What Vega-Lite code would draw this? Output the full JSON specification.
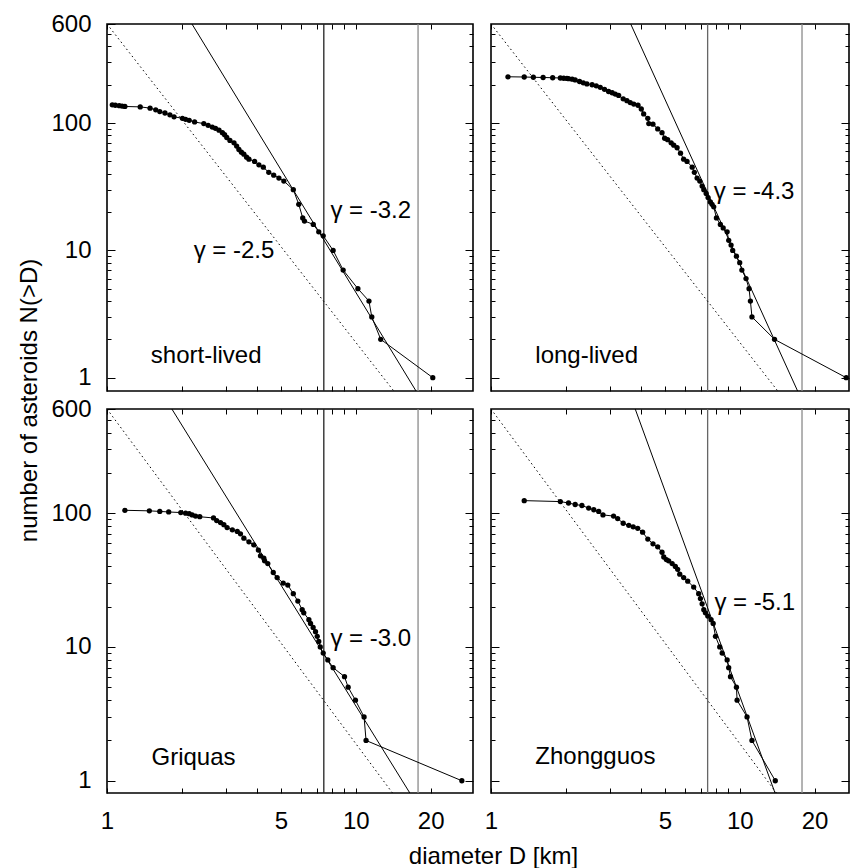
{
  "$schema": "https://vega.github.io/schema/vega-lite/v6.json",
  "padding": {"left": 16, "top": 11, "right": 0, "bottom": 0},
  "background": "white",
  "config": {
    "view": {"stroke": "#000", "strokeWidth": 1.6},
    "font": "Liberation Sans",
    "axis": {"grid": false, "domain": false, "tickColor": "#000", "tickWidth": 1, "labelFont": "Liberation Sans", "labelFontSize": 24, "labelColor": "#000", "labelFlush": false, "labelOverlap": false, "titleFont": "Liberation Sans", "titleFontSize": 24, "titleFontWeight": "normal", "titleColor": "#000"}
  },
  "datasets": {
    "tl": [
      {"D": 1.05, "N": 139}, {"D": 1.08, "N": 138}, {"D": 1.12, "N": 137}, {"D": 1.15, "N": 136}, {"D": 1.18, "N": 135},
      {"D": 1.36, "N": 134}, {"D": 1.49, "N": 131}, {"D": 1.57, "N": 127}, {"D": 1.63, "N": 123}, {"D": 1.71, "N": 120},
      {"D": 1.79, "N": 116}, {"D": 1.86, "N": 112}, {"D": 2.01, "N": 109}, {"D": 2.07, "N": 107}, {"D": 2.14, "N": 105},
      {"D": 2.25, "N": 102}, {"D": 2.45, "N": 99}, {"D": 2.55, "N": 96}, {"D": 2.65, "N": 93}, {"D": 2.73, "N": 91},
      {"D": 2.82, "N": 88}, {"D": 2.91, "N": 84}, {"D": 2.97, "N": 81}, {"D": 3.03, "N": 77}, {"D": 3.12, "N": 73},
      {"D": 3.24, "N": 70}, {"D": 3.32, "N": 66}, {"D": 3.39, "N": 62}, {"D": 3.47, "N": 59}, {"D": 3.55, "N": 57},
      {"D": 3.64, "N": 54}, {"D": 3.72, "N": 52}, {"D": 3.92, "N": 50}, {"D": 4.08, "N": 47}, {"D": 4.25, "N": 45},
      {"D": 4.47, "N": 41}, {"D": 4.68, "N": 39}, {"D": 4.91, "N": 37}, {"D": 5.14, "N": 35}, {"D": 5.61, "N": 30},
      {"D": 5.9, "N": 23}, {"D": 6.12, "N": 18}, {"D": 6.22, "N": 17}, {"D": 6.75, "N": 16}, {"D": 7.1, "N": 14},
      {"D": 7.4, "N": 13}, {"D": 8.11, "N": 10}, {"D": 8.9, "N": 7}, {"D": 10.2, "N": 5}, {"D": 11.3, "N": 4},
      {"D": 11.6, "N": 3}, {"D": 12.6, "N": 2}, {"D": 20.4, "N": 1}
    ],
    "tr": [
      {"D": 1.17, "N": 231}, {"D": 1.36, "N": 230}, {"D": 1.48, "N": 229}, {"D": 1.62, "N": 228}, {"D": 1.77, "N": 227},
      {"D": 1.9, "N": 226}, {"D": 1.96, "N": 225}, {"D": 2.02, "N": 224}, {"D": 2.05, "N": 223}, {"D": 2.12, "N": 221},
      {"D": 2.18, "N": 218}, {"D": 2.27, "N": 212}, {"D": 2.35, "N": 207}, {"D": 2.43, "N": 203}, {"D": 2.55, "N": 200},
      {"D": 2.65, "N": 196}, {"D": 2.75, "N": 191}, {"D": 2.86, "N": 184}, {"D": 2.97, "N": 177}, {"D": 3.07, "N": 173},
      {"D": 3.16, "N": 169}, {"D": 3.26, "N": 165}, {"D": 3.4, "N": 155}, {"D": 3.52, "N": 150}, {"D": 3.63, "N": 145},
      {"D": 3.75, "N": 141}, {"D": 3.9, "N": 138}, {"D": 4.02, "N": 129}, {"D": 4.11, "N": 118}, {"D": 4.27, "N": 109},
      {"D": 4.31, "N": 99}, {"D": 4.48, "N": 98}, {"D": 4.68, "N": 90}, {"D": 4.87, "N": 84}, {"D": 4.99, "N": 76},
      {"D": 5.13, "N": 74}, {"D": 5.3, "N": 70}, {"D": 5.43, "N": 67}, {"D": 5.6, "N": 64}, {"D": 5.78, "N": 58},
      {"D": 5.95, "N": 52}, {"D": 6.14, "N": 50}, {"D": 6.44, "N": 45}, {"D": 6.57, "N": 41}, {"D": 6.74, "N": 37},
      {"D": 6.91, "N": 35}, {"D": 7.06, "N": 32}, {"D": 7.17, "N": 30}, {"D": 7.33, "N": 28}, {"D": 7.46, "N": 26},
      {"D": 7.62, "N": 24}, {"D": 7.74, "N": 23}, {"D": 7.86, "N": 22}, {"D": 8.06, "N": 18}, {"D": 8.36, "N": 16},
      {"D": 8.58, "N": 15}, {"D": 8.9, "N": 14}, {"D": 9.03, "N": 12}, {"D": 9.23, "N": 11}, {"D": 9.37, "N": 10},
      {"D": 9.7, "N": 9}, {"D": 10.0, "N": 8}, {"D": 10.2, "N": 7}, {"D": 10.6, "N": 6}, {"D": 10.9, "N": 5},
      {"D": 11.04, "N": 4}, {"D": 11.2, "N": 3}, {"D": 13.8, "N": 2}, {"D": 26.8, "N": 1}
    ],
    "bl": [
      {"D": 1.18, "N": 105}, {"D": 1.48, "N": 104}, {"D": 1.63, "N": 103}, {"D": 1.77, "N": 102}, {"D": 1.98, "N": 101},
      {"D": 2.07, "N": 100}, {"D": 2.14, "N": 99}, {"D": 2.2, "N": 97}, {"D": 2.27, "N": 95}, {"D": 2.36, "N": 94},
      {"D": 2.68, "N": 92}, {"D": 2.76, "N": 88}, {"D": 2.86, "N": 85}, {"D": 2.95, "N": 82}, {"D": 3.04, "N": 78},
      {"D": 3.19, "N": 75}, {"D": 3.34, "N": 73}, {"D": 3.44, "N": 70}, {"D": 3.55, "N": 65}, {"D": 3.72, "N": 61},
      {"D": 3.89, "N": 58}, {"D": 4.06, "N": 53}, {"D": 4.14, "N": 48}, {"D": 4.27, "N": 46}, {"D": 4.3, "N": 44},
      {"D": 4.43, "N": 42}, {"D": 4.66, "N": 36}, {"D": 4.83, "N": 33}, {"D": 5.11, "N": 30}, {"D": 5.33, "N": 29},
      {"D": 5.61, "N": 25}, {"D": 5.85, "N": 22}, {"D": 6.09, "N": 19}, {"D": 6.18, "N": 18}, {"D": 6.48, "N": 16},
      {"D": 6.58, "N": 15}, {"D": 6.74, "N": 14}, {"D": 6.89, "N": 13}, {"D": 7.0, "N": 12}, {"D": 7.1, "N": 11},
      {"D": 7.2, "N": 10}, {"D": 7.4, "N": 9}, {"D": 7.72, "N": 8}, {"D": 8.11, "N": 7}, {"D": 9.01, "N": 6},
      {"D": 9.32, "N": 5}, {"D": 9.97, "N": 4}, {"D": 10.8, "N": 3}, {"D": 11.0, "N": 2}, {"D": 26.7, "N": 1}
    ],
    "br": [
      {"D": 1.36, "N": 124}, {"D": 1.9, "N": 122}, {"D": 2.05, "N": 119}, {"D": 2.18, "N": 116}, {"D": 2.32, "N": 114},
      {"D": 2.47, "N": 109}, {"D": 2.59, "N": 106}, {"D": 2.71, "N": 103}, {"D": 2.82, "N": 97}, {"D": 3.11, "N": 95},
      {"D": 3.23, "N": 91}, {"D": 3.4, "N": 84}, {"D": 3.58, "N": 81}, {"D": 3.73, "N": 79}, {"D": 3.89, "N": 77},
      {"D": 4.07, "N": 72}, {"D": 4.27, "N": 64}, {"D": 4.48, "N": 59}, {"D": 4.68, "N": 56}, {"D": 4.87, "N": 51},
      {"D": 4.95, "N": 47}, {"D": 5.07, "N": 45}, {"D": 5.18, "N": 44}, {"D": 5.35, "N": 42}, {"D": 5.51, "N": 40},
      {"D": 5.63, "N": 38}, {"D": 5.74, "N": 35}, {"D": 5.95, "N": 33}, {"D": 6.18, "N": 31}, {"D": 6.53, "N": 28},
      {"D": 6.84, "N": 25}, {"D": 6.95, "N": 23}, {"D": 7.06, "N": 21}, {"D": 7.17, "N": 19}, {"D": 7.28, "N": 18},
      {"D": 7.44, "N": 17}, {"D": 7.67, "N": 16}, {"D": 7.82, "N": 15}, {"D": 7.99, "N": 12}, {"D": 8.31, "N": 10},
      {"D": 8.5, "N": 9}, {"D": 8.9, "N": 8}, {"D": 9.03, "N": 7}, {"D": 9.18, "N": 6}, {"D": 9.7, "N": 5},
      {"D": 9.76, "N": 4}, {"D": 10.7, "N": 3}, {"D": 11.2, "N": 2}, {"D": 13.9, "N": 1}
    ],
    "fit": [
      {"panel": "all", "D": 1, "N": 600}, {"panel": "all", "D": 20, "N": 0.335},
      {"panel": "tl", "D": 2.0, "N": 809}, {"panel": "tl", "D": 20, "N": 0.51},
      {"panel": "tr", "D": 3.4, "N": 809}, {"panel": "tr", "D": 20, "N": 0.4},
      {"panel": "bl", "D": 1.6, "N": 887}, {"panel": "bl", "D": 20, "N": 0.4545},
      {"panel": "br", "D": 3.6, "N": 791}, {"panel": "br", "D": 16, "N": 0.39}
    ],
    "vlines": [
      {"panel": "tl", "D": 7.44, "shade": "dark"}, {"panel": "tl", "D": 17.8, "shade": "light"},
      {"panel": "tr", "D": 7.43, "shade": "mid"}, {"panel": "tr", "D": 17.8, "shade": "light"},
      {"panel": "bl", "D": 7.44, "shade": "dark"}, {"panel": "bl", "D": 17.8, "shade": "light"},
      {"panel": "br", "D": 7.43, "shade": "mid"}, {"panel": "br", "D": 17.8, "shade": "light"}
    ],
    "labels": [
      {"panel": "tl", "D": 7.91, "N": 20.4, "text": "γ = -3.2"},
      {"panel": "tl", "D": 2.23, "N": 9.9, "text": "γ = -2.5"},
      {"panel": "tl", "D": 1.5, "N": 1.48, "text": "short-lived"},
      {"panel": "tr", "D": 7.86, "N": 29.0, "text": "γ = -4.3"},
      {"panel": "tr", "D": 1.507, "N": 1.48, "text": "long-lived"},
      {"panel": "bl", "D": 7.91, "N": 11.5, "text": "γ = -3.0"},
      {"panel": "bl", "D": 1.51, "N": 1.49, "text": "Griquas"},
      {"panel": "br", "D": 7.91, "N": 21.4, "text": "γ = -5.1"},
      {"panel": "br", "D": 1.507, "N": 1.51, "text": "Zhongguos"}
    ]
  },
  "columns": 2,
  "spacing": 18,
  "bounds": "flush",
  "align": "each",
  "concat": [
    {
      "width": 366, "height": 367,
      "resolve": {"axis": {"x": "independent", "y": "independent"}},
      "layer": [
        {"data": {"name": "vlines"}, "transform": [{"filter": "datum.panel == 'tl'"}],
         "mark": {"type": "rule", "strokeWidth": 1.3},
         "encoding": {"x": {"field": "D", "type": "quantitative", "scale": {"type": "log", "domain": [1, 29.6], "nice": false}, "axis": null},
                      "color": {"field": "shade", "type": "nominal", "scale": {"domain": ["dark", "mid", "light"], "range": ["#222222", "#666666", "#8a8a8a"]}, "legend": null}}},
        {"data": {"name": "fit"}, "transform": [{"filter": "datum.panel == 'all'"}],
         "mark": {"type": "line", "color": "#000", "strokeWidth": 1, "strokeDash": [1.5, 3], "clip": true},
         "encoding": {"x": {"field": "D", "type": "quantitative", "scale": {"type": "log", "domain": [1, 29.6], "nice": false}, "axis": null},
                      "y": {"field": "N", "type": "quantitative", "scale": {"type": "log", "domain": [0.786, 600], "nice": false},
                            "axis": {"orient": "right", "values": [2, 3, 4, 5, 6, 7, 8, 9, 20, 30, 40, 50, 60, 70, 80, 90, 200, 300, 400, 500], "tickSize": -4, "labels": false, "title": null}}}},
        {"data": {"name": "fit"}, "transform": [{"filter": "datum.panel == 'tl'"}],
         "mark": {"type": "line", "color": "#000", "strokeWidth": 1, "clip": true},
         "encoding": {"x": {"field": "D", "type": "quantitative", "scale": {"type": "log", "domain": [1, 29.6], "nice": false}, "axis": null},
                      "y": {"field": "N", "type": "quantitative", "scale": {"type": "log", "domain": [0.786, 600], "nice": false},
                            "axis": {"orient": "right", "values": [1, 10, 100], "tickSize": -8, "labels": false, "title": null}}}},
        {"data": {"name": "tl"},
         "mark": {"type": "line", "color": "#000", "strokeWidth": 1},
         "encoding": {"x": {"field": "D", "type": "quantitative", "scale": {"type": "log", "domain": [1, 29.6], "nice": false},
                            "axis": {"orient": "top", "values": [1, 2, 3, 4, 5, 6, 7, 8, 9, 10, 20], "tickSize": -5, "labels": false, "title": null}},
                      "y": {"field": "N", "type": "quantitative", "scale": {"type": "log", "domain": [0.786, 600], "nice": false},
                            "axis": {"orient": "left", "values": [2, 3, 4, 5, 6, 7, 8, 9, 20, 30, 40, 50, 60, 70, 80, 90, 200, 300, 400, 500], "tickSize": -4, "labels": false, "title": null}}}},
        {"data": {"name": "tl"},
         "mark": {"type": "circle", "size": 28, "color": "#000", "opacity": 1},
         "encoding": {"x": {"field": "D", "type": "quantitative", "scale": {"type": "log", "domain": [1, 29.6], "nice": false},
                            "axis": {"orient": "bottom", "values": [1, 2, 3, 4, 5, 6, 7, 8, 9, 10, 20], "tickSize": -5, "labels": false, "title": null}},
                      "y": {"field": "N", "type": "quantitative", "scale": {"type": "log", "domain": [0.786, 600], "nice": false},
                            "axis": {"orient": "left", "values": [1, 10, 100, 600], "tickSize": -8, "labels": true, "labelExpr": "datum.value + ''", "labelPadding": 24,
                                     "title": "number of asteroids N(>D)", "titleX": -78, "titleY": 376, "titleAngle": 270, "titleAlign": "center", "titleBaseline": "middle"}}}},
        {"data": {"name": "labels"}, "transform": [{"filter": "datum.panel == 'tl'"}],
         "mark": {"type": "text", "align": "left", "baseline": "middle", "fontSize": 24, "font": "Liberation Sans", "color": "#000"},
         "encoding": {"x": {"field": "D", "type": "quantitative", "scale": {"type": "log", "domain": [1, 29.6], "nice": false}, "axis": null},
                      "y": {"field": "N", "type": "quantitative", "scale": {"type": "log", "domain": [0.786, 600], "nice": false}, "axis": null},
                      "text": {"field": "text", "type": "nominal"}}}
      ]
    },
    {
      "width": 358, "height": 367,
      "resolve": {"axis": {"x": "independent", "y": "independent"}},
      "layer": [
        {"data": {"name": "vlines"}, "transform": [{"filter": "datum.panel == 'tr'"}],
         "mark": {"type": "rule", "strokeWidth": 1.3},
         "encoding": {"x": {"field": "D", "type": "quantitative", "scale": {"type": "log", "domain": [1, 27.5], "nice": false}, "axis": null},
                      "color": {"field": "shade", "type": "nominal", "scale": {"domain": ["dark", "mid", "light"], "range": ["#222222", "#666666", "#8a8a8a"]}, "legend": null}}},
        {"data": {"name": "fit"}, "transform": [{"filter": "datum.panel == 'all'"}],
         "mark": {"type": "line", "color": "#000", "strokeWidth": 1, "strokeDash": [1.5, 3], "clip": true},
         "encoding": {"x": {"field": "D", "type": "quantitative", "scale": {"type": "log", "domain": [1, 27.5], "nice": false}, "axis": null},
                      "y": {"field": "N", "type": "quantitative", "scale": {"type": "log", "domain": [0.786, 600], "nice": false},
                            "axis": {"orient": "right", "values": [2, 3, 4, 5, 6, 7, 8, 9, 20, 30, 40, 50, 60, 70, 80, 90, 200, 300, 400, 500], "tickSize": -4, "labels": false, "title": null}}}},
        {"data": {"name": "fit"}, "transform": [{"filter": "datum.panel == 'tr'"}],
         "mark": {"type": "line", "color": "#000", "strokeWidth": 1, "clip": true},
         "encoding": {"x": {"field": "D", "type": "quantitative", "scale": {"type": "log", "domain": [1, 27.5], "nice": false}, "axis": null},
                      "y": {"field": "N", "type": "quantitative", "scale": {"type": "log", "domain": [0.786, 600], "nice": false},
                            "axis": {"orient": "right", "values": [1, 10, 100], "tickSize": -8, "labels": false, "title": null}}}},
        {"data": {"name": "tr"},
         "mark": {"type": "line", "color": "#000", "strokeWidth": 1},
         "encoding": {"x": {"field": "D", "type": "quantitative", "scale": {"type": "log", "domain": [1, 27.5], "nice": false},
                            "axis": {"orient": "top", "values": [1, 2, 3, 4, 5, 6, 7, 8, 9, 10, 20], "tickSize": -5, "labels": false, "title": null}},
                      "y": {"field": "N", "type": "quantitative", "scale": {"type": "log", "domain": [0.786, 600], "nice": false},
                            "axis": {"orient": "left", "values": [2, 3, 4, 5, 6, 7, 8, 9, 20, 30, 40, 50, 60, 70, 80, 90, 200, 300, 400, 500], "tickSize": -4, "labels": false, "title": null}}}},
        {"data": {"name": "tr"},
         "mark": {"type": "circle", "size": 28, "color": "#000", "opacity": 1},
         "encoding": {"x": {"field": "D", "type": "quantitative", "scale": {"type": "log", "domain": [1, 27.5], "nice": false},
                            "axis": {"orient": "bottom", "values": [1, 2, 3, 4, 5, 6, 7, 8, 9, 10, 20], "tickSize": -5, "labels": false, "title": null}},
                      "y": {"field": "N", "type": "quantitative", "scale": {"type": "log", "domain": [0.786, 600], "nice": false},
                            "axis": {"orient": "left", "values": [1, 10, 100], "tickSize": -8, "labels": false, "title": null}}}},
        {"data": {"name": "labels"}, "transform": [{"filter": "datum.panel == 'tr'"}],
         "mark": {"type": "text", "align": "left", "baseline": "middle", "fontSize": 24, "font": "Liberation Sans", "color": "#000"},
         "encoding": {"x": {"field": "D", "type": "quantitative", "scale": {"type": "log", "domain": [1, 27.5], "nice": false}, "axis": null},
                      "y": {"field": "N", "type": "quantitative", "scale": {"type": "log", "domain": [0.786, 600], "nice": false}, "axis": null},
                      "text": {"field": "text", "type": "nominal"}}}
      ]
    },
    {
      "width": 366, "height": 384,
      "resolve": {"axis": {"x": "independent", "y": "independent"}},
      "layer": [
        {"data": {"name": "vlines"}, "transform": [{"filter": "datum.panel == 'bl'"}],
         "mark": {"type": "rule", "strokeWidth": 1.3},
         "encoding": {"x": {"field": "D", "type": "quantitative", "scale": {"type": "log", "domain": [1, 29.6], "nice": false}, "axis": null},
                      "color": {"field": "shade", "type": "nominal", "scale": {"domain": ["dark", "mid", "light"], "range": ["#222222", "#666666", "#8a8a8a"]}, "legend": null}}},
        {"data": {"name": "fit"}, "transform": [{"filter": "datum.panel == 'all'"}],
         "mark": {"type": "line", "color": "#000", "strokeWidth": 1, "strokeDash": [1.5, 3], "clip": true},
         "encoding": {"x": {"field": "D", "type": "quantitative", "scale": {"type": "log", "domain": [1, 29.6], "nice": false}, "axis": null},
                      "y": {"field": "N", "type": "quantitative", "scale": {"type": "log", "domain": [0.81, 600], "nice": false},
                            "axis": {"orient": "right", "values": [2, 3, 4, 5, 6, 7, 8, 9, 20, 30, 40, 50, 60, 70, 80, 90, 200, 300, 400, 500], "tickSize": -4, "labels": false, "title": null}}}},
        {"data": {"name": "fit"}, "transform": [{"filter": "datum.panel == 'bl'"}],
         "mark": {"type": "line", "color": "#000", "strokeWidth": 1, "clip": true},
         "encoding": {"x": {"field": "D", "type": "quantitative", "scale": {"type": "log", "domain": [1, 29.6], "nice": false}, "axis": null},
                      "y": {"field": "N", "type": "quantitative", "scale": {"type": "log", "domain": [0.81, 600], "nice": false},
                            "axis": {"orient": "right", "values": [1, 10, 100], "tickSize": -8, "labels": false, "title": null}}}},
        {"data": {"name": "bl"},
         "mark": {"type": "line", "color": "#000", "strokeWidth": 1},
         "encoding": {"x": {"field": "D", "type": "quantitative", "scale": {"type": "log", "domain": [1, 29.6], "nice": false},
                            "axis": {"orient": "top", "values": [1, 2, 3, 4, 5, 6, 7, 8, 9, 10, 20], "tickSize": -5, "labels": false, "title": null}},
                      "y": {"field": "N", "type": "quantitative", "scale": {"type": "log", "domain": [0.81, 600], "nice": false},
                            "axis": {"orient": "left", "values": [2, 3, 4, 5, 6, 7, 8, 9, 20, 30, 40, 50, 60, 70, 80, 90, 200, 300, 400, 500], "tickSize": -4, "labels": false, "title": null}}}},
        {"data": {"name": "bl"},
         "mark": {"type": "circle", "size": 28, "color": "#000", "opacity": 1},
         "encoding": {"x": {"field": "D", "type": "quantitative", "scale": {"type": "log", "domain": [1, 29.6], "nice": false},
                            "axis": {"orient": "bottom", "values": [1, 2, 3, 4, 5, 6, 7, 8, 9, 10, 20], "tickSize": -5, "labels": true, "labelPadding": 21,
                                     "labelExpr": "(datum.value == 1 || datum.value == 5 || datum.value == 10 || datum.value == 20) ? datum.value + '' : ''",
                                     "title": "diameter D [km]", "titleX": 386, "titleY": 70, "titleAlign": "center", "titleBaseline": "alphabetic"}},
                      "y": {"field": "N", "type": "quantitative", "scale": {"type": "log", "domain": [0.81, 600], "nice": false},
                            "axis": {"orient": "left", "values": [1, 10, 100, 600], "tickSize": -8, "labels": true, "labelExpr": "datum.value + ''", "labelPadding": 24, "title": null}}}},
        {"data": {"name": "labels"}, "transform": [{"filter": "datum.panel == 'bl'"}],
         "mark": {"type": "text", "align": "left", "baseline": "middle", "fontSize": 24, "font": "Liberation Sans", "color": "#000"},
         "encoding": {"x": {"field": "D", "type": "quantitative", "scale": {"type": "log", "domain": [1, 29.6], "nice": false}, "axis": null},
                      "y": {"field": "N", "type": "quantitative", "scale": {"type": "log", "domain": [0.81, 600], "nice": false}, "axis": null},
                      "text": {"field": "text", "type": "nominal"}}}
      ]
    },
    {
      "width": 358, "height": 384,
      "resolve": {"axis": {"x": "independent", "y": "independent"}},
      "layer": [
        {"data": {"name": "vlines"}, "transform": [{"filter": "datum.panel == 'br'"}],
         "mark": {"type": "rule", "strokeWidth": 1.3},
         "encoding": {"x": {"field": "D", "type": "quantitative", "scale": {"type": "log", "domain": [1, 27.5], "nice": false}, "axis": null},
                      "color": {"field": "shade", "type": "nominal", "scale": {"domain": ["dark", "mid", "light"], "range": ["#222222", "#666666", "#8a8a8a"]}, "legend": null}}},
        {"data": {"name": "fit"}, "transform": [{"filter": "datum.panel == 'all'"}],
         "mark": {"type": "line", "color": "#000", "strokeWidth": 1, "strokeDash": [1.5, 3], "clip": true},
         "encoding": {"x": {"field": "D", "type": "quantitative", "scale": {"type": "log", "domain": [1, 27.5], "nice": false}, "axis": null},
                      "y": {"field": "N", "type": "quantitative", "scale": {"type": "log", "domain": [0.81, 600], "nice": false},
                            "axis": {"orient": "right", "values": [2, 3, 4, 5, 6, 7, 8, 9, 20, 30, 40, 50, 60, 70, 80, 90, 200, 300, 400, 500], "tickSize": -4, "labels": false, "title": null}}}},
        {"data": {"name": "fit"}, "transform": [{"filter": "datum.panel == 'br'"}],
         "mark": {"type": "line", "color": "#000", "strokeWidth": 1, "clip": true},
         "encoding": {"x": {"field": "D", "type": "quantitative", "scale": {"type": "log", "domain": [1, 27.5], "nice": false}, "axis": null},
                      "y": {"field": "N", "type": "quantitative", "scale": {"type": "log", "domain": [0.81, 600], "nice": false},
                            "axis": {"orient": "right", "values": [1, 10, 100], "tickSize": -8, "labels": false, "title": null}}}},
        {"data": {"name": "br"},
         "mark": {"type": "line", "color": "#000", "strokeWidth": 1},
         "encoding": {"x": {"field": "D", "type": "quantitative", "scale": {"type": "log", "domain": [1, 27.5], "nice": false},
                            "axis": {"orient": "top", "values": [1, 2, 3, 4, 5, 6, 7, 8, 9, 10, 20], "tickSize": -5, "labels": false, "title": null}},
                      "y": {"field": "N", "type": "quantitative", "scale": {"type": "log", "domain": [0.81, 600], "nice": false},
                            "axis": {"orient": "left", "values": [2, 3, 4, 5, 6, 7, 8, 9, 20, 30, 40, 50, 60, 70, 80, 90, 200, 300, 400, 500], "tickSize": -4, "labels": false, "title": null}}}},
        {"data": {"name": "br"},
         "mark": {"type": "circle", "size": 28, "color": "#000", "opacity": 1},
         "encoding": {"x": {"field": "D", "type": "quantitative", "scale": {"type": "log", "domain": [1, 27.5], "nice": false},
                            "axis": {"orient": "bottom", "values": [1, 2, 3, 4, 5, 6, 7, 8, 9, 10, 20], "tickSize": -5, "labels": true, "labelPadding": 21,
                                     "labelExpr": "(datum.value == 1 || datum.value == 5 || datum.value == 10 || datum.value == 20) ? datum.value + '' : ''", "title": null}},
                      "y": {"field": "N", "type": "quantitative", "scale": {"type": "log", "domain": [0.81, 600], "nice": false},
                            "axis": {"orient": "left", "values": [1, 10, 100], "tickSize": -8, "labels": false, "title": null}}}},
        {"data": {"name": "labels"}, "transform": [{"filter": "datum.panel == 'br'"}],
         "mark": {"type": "text", "align": "left", "baseline": "middle", "fontSize": 24, "font": "Liberation Sans", "color": "#000"},
         "encoding": {"x": {"field": "D", "type": "quantitative", "scale": {"type": "log", "domain": [1, 27.5], "nice": false}, "axis": null},
                      "y": {"field": "N", "type": "quantitative", "scale": {"type": "log", "domain": [0.81, 600], "nice": false}, "axis": null},
                      "text": {"field": "text", "type": "nominal"}}}
      ]
    }
  ]
}
